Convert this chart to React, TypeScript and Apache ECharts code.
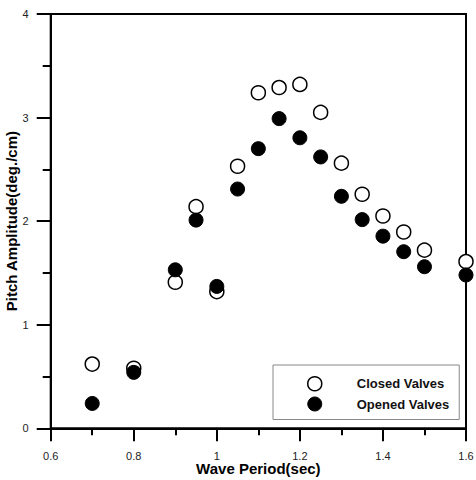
import React, { useEffect, useRef } from "react";
import * as echarts from "echarts";

const periods = [0.7, 0.8, 0.9, 0.95, 1.0, 1.05, 1.1, 1.15, 1.2, 1.25, 1.3, 1.35, 1.4, 1.45, 1.5, 1.6];
const closedValves = [0.62, 0.58, 1.41, 2.14, 1.32, 2.53, 3.24, 3.29, 3.32, 3.05, 2.56, 2.26, 2.05, 1.895, 1.72, 1.61];
const openedValves = [0.24, 0.54, 1.53, 2.01, 1.37, 2.31, 2.7, 2.99, 2.805, 2.62, 2.24, 2.015, 1.855, 1.705, 1.56, 1.48];
const seriesNames = ["Closed Valves", "Opened Valves"];

const FONT = "Liberation Sans, Arial, sans-serif";

export default function App() {
  const ref = useRef<HTMLDivElement>(null);
  useEffect(() => {
    if (!ref.current) return;
    const chart = echarts.init(ref.current, null, { renderer: "svg" });
    const pair = (ys: number[]) => periods.map((x, i) => [x, ys[i]]);
    chart.setOption({
      animation: false,
      backgroundColor: "#fff",
      grid: {
        left: 50.7,
        right: 10,
        top: 14,
        bottom: 51.7,
        show: true,
        borderColor: "#000",
        borderWidth: 2,
        containLabel: false,
        outerBoundsMode: "none",
      },
      legend: {
        orient: "vertical",
        left: 273,
        top: 365,
        padding: [11, 10, 8, 34],
        itemGap: 5,
        itemWidth: 14,
        itemHeight: 14,
        borderColor: "#888",
        borderWidth: 1,
        backgroundColor: "#fff",
        textStyle: {
          fontFamily: FONT,
          fontWeight: "bold",
          fontSize: 13,
          color: "#111",
          padding: [0, 0, 0, 30],
        },
        data: [
          { name: seriesNames[0], icon: "circle", itemStyle: { color: "#fff", borderColor: "#000", borderWidth: 1.5 } },
          { name: seriesNames[1], icon: "circle", itemStyle: { color: "#000", borderColor: "#000", borderWidth: 1 } },
        ],
      },
      xAxis: {
        type: "value",
        min: 0.6,
        max: 1.6,
        interval: 0.2,
        name: "Wave Period(sec)",
        nameLocation: "middle",
        nameGap: 33,
        nameMoveOverlap: false,
        nameTextStyle: { fontFamily: FONT, fontWeight: "bold", fontSize: 15, color: "#000" },
        axisLine: { show: true, onZero: false, lineStyle: { color: "#000", width: 2 } },
        axisTick: { show: true, inside: false, length: 13, lineStyle: { color: "#000", width: 2 } },
        minorTick: { show: true, splitNumber: 2, length: 7, lineStyle: { color: "#000", width: 2 } },
        splitLine: { show: false },
        axisLabel: { fontFamily: FONT, fontSize: 11, color: "#222", margin: 22 },
      },
      yAxis: {
        type: "value",
        min: 0,
        max: 4,
        interval: 1,
        name: "Pitch Amplitude(deg./cm)",
        nameLocation: "middle",
        nameGap: 32,
        nameMoveOverlap: false,
        nameTextStyle: { fontFamily: FONT, fontWeight: "bold", fontSize: 15, color: "#000" },
        axisLine: { show: true, onZero: false, lineStyle: { color: "#000", width: 2 } },
        axisTick: { show: true, inside: false, length: 14, lineStyle: { color: "#000", width: 2 } },
        minorTick: { show: true, splitNumber: 2, length: 8, lineStyle: { color: "#000", width: 2 } },
        splitLine: { show: false },
        axisLabel: { fontFamily: FONT, fontSize: 11, color: "#222", margin: 22, align: "right" },
      },
      series: [
        {
          name: seriesNames[0],
          type: "scatter",
          symbol: "circle",
          symbolSize: 14,
          data: pair(closedValves),
          itemStyle: { color: "#fff", borderColor: "#000", borderWidth: 1.5, opacity: 1 },
          z: 2,
        },
        {
          name: seriesNames[1],
          type: "scatter",
          symbol: "circle",
          symbolSize: 14,
          data: pair(openedValves),
          itemStyle: { color: "#000", borderColor: "#000", borderWidth: 1, opacity: 1 },
          z: 3,
        },
      ],
    });
    return () => chart.dispose();
  }, []);
  return <div ref={ref} style={{ width: 476, height: 480, position: "absolute", left: 0, top: 0 }} />;
}
